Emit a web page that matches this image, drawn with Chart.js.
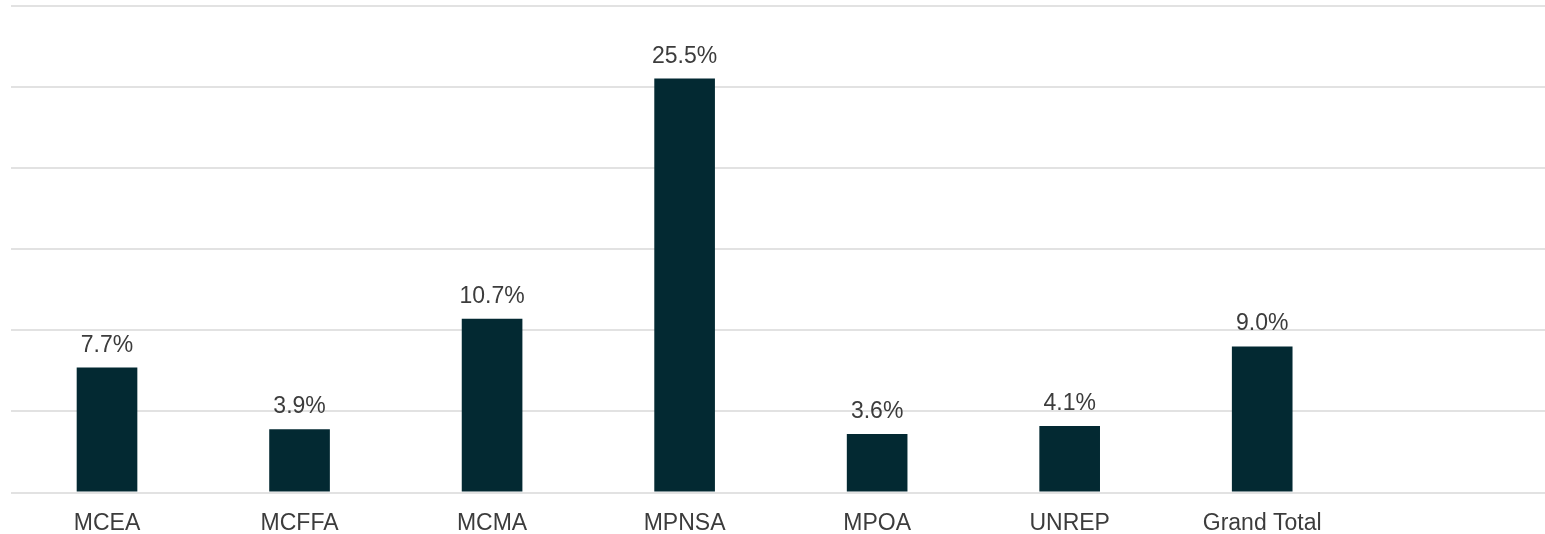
<!DOCTYPE html>
<html>
<head>
<meta charset="utf-8">
<script src="https://cdn.jsdelivr.net/npm/chart.js@4"></script>
<style>
  html, body { margin: 0; padding: 0; background: #fff; overflow: hidden; }
  #wrap { width: 1551px; height: 534px; position: relative; }
</style>
</head>
<body>
<div id="wrap"><canvas id="bar-chart"></canvas></div>

<script>
  // categories (last slot left empty, as in the original plot area)
  const categories = ['MCEA', 'MCFFA', 'MCMA', 'MPNSA', 'MPOA', 'UNREP', 'Grand Total', ''];
  // percentages
  const values = [7.7, 3.9, 10.7, 25.5, 3.6, 4.1, 9.0, null];
  const yTicks = [0, 5, 10, 15, 20, 25, 30];

  const barColor = '#032932';
  const textColor = '#3c3c3c';
  const gridColor = '#e2e2e2';
  const fontFamily = '"Liberation Sans", Arial, sans-serif';

  // value labels above bars
  const valueLabels = {
    id: 'valueLabels',
    afterDatasetsDraw(chart) {
      const ctx = chart.ctx;
      const meta = chart.getDatasetMeta(0);
      ctx.save();
      ctx.font = `23px ${fontFamily}`;
      ctx.fillStyle = textColor;
      ctx.textAlign = 'center';
      ctx.textBaseline = 'alphabetic';
      meta.data.forEach((bar, i) => {
        const v = values[i];
        if (v == null) return;
        ctx.fillText(v.toFixed(1) + '%', bar.x, bar.y - 16);
      });
      ctx.restore();
    }
  };

  function initChart() {
    const ctx = document.getElementById('bar-chart').getContext('2d');
    new Chart(ctx, {
      type: 'bar',
      data: {
        labels: categories,
        datasets: [{
          data: values,
          backgroundColor: barColor,
          borderWidth: 0,
          barPercentage: 0.315,
          categoryPercentage: 1.0
        }]
      },
      options: {
        responsive: true,
        maintainAspectRatio: false,
        animation: false,
        layout: { padding: { left: 10.75, right: 0, top: 5.5, bottom: 0 } },
        plugins: { legend: { display: false }, tooltip: { enabled: false } },
        scales: {
          x: {
            grid: { display: false },
            border: { display: false },
            ticks: {
              color: textColor,
              font: { family: fontFamily, size: 23 },
              padding: 9,
              maxRotation: 0,
              autoSkip: false
            },
            afterFit(scale) { scale.height = 41.5; }
          },
          y: {
            min: 0,
            max: 30,
            afterBuildTicks(scale) { scale.ticks = yTicks.map(v => ({ value: v })); },
            grid: { color: gridColor, lineWidth: 2, drawTicks: false },
            border: { display: false },
            ticks: { display: false },
            afterFit(scale) { scale.width = 0; }
          }
        }
      },
      plugins: [valueLabels]
    });
  }
  requestAnimationFrame(initChart);
</script>
</body>
</html>
